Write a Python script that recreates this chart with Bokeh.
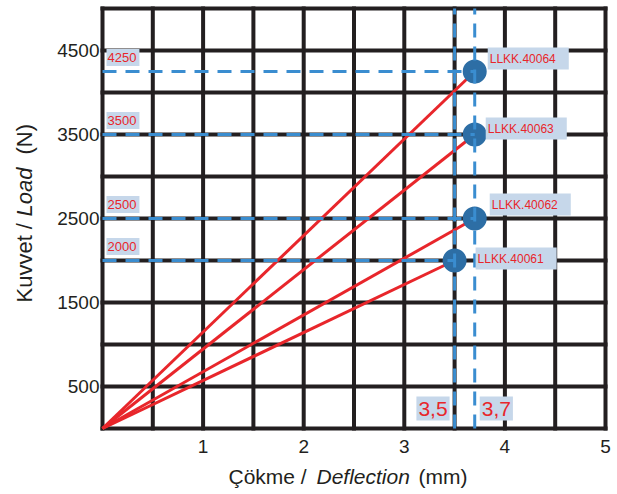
import math
import numpy as np
from bokeh.plotting import figure
from bokeh.models import Range1d, FixedTicker, Label
from bokeh.embed import file_html
from bokeh.resources import INLINE

# ---------------- data ----------------
products = ["LLKK.40061", "LLKK.40062", "LLKK.40063", "LLKK.40064"]
deflection = [3.5, 3.7, 3.7, 3.7]          # mm
load = [2000, 2500, 3500, 4250]            # N
load_labels = ["2000", "2500", "3500", "4250"]
deflection_marks = [3.5, 3.7]
deflection_labels = ["3,5", "3,7"]
x_ticks = [1, 2, 3, 4, 5]
y_ticks = [500, 1500, 2500, 3500, 4500]
X_MAX, Y_MAX = 5, 5000
X_GRID_STEP, Y_GRID_STEP = 0.5, 500

# ---------------- styles / layout ----------------
INK = "#231f20"
RED = "#e8262b"
BLUE_DASH = "#3a8dd0"
BLUE_DOT = "#2d6ea5"
BOX = "#c6d7ea"
FONT = "Liberation Sans"

W, H = 615, 492
PLOT_L, PLOT_R, PLOT_T, PLOT_B = 102, 605, 8, 428   # pixel edges of the chart box

# product label offsets (px) relative to their point
prod_dx = [21, 15, 11, 13]
prod_dy = [2, 14, 6, 13]

# ranges chosen so that the data box sits at the pixel edges above, leaving room for titles
xs = (PLOT_R - PLOT_L) / X_MAX
ys = (PLOT_B - PLOT_T) / Y_MAX
x_range = Range1d(-PLOT_L / xs, X_MAX + (W - PLOT_R) / xs)
y_range = Range1d(-(H - PLOT_B) / ys, Y_MAX + PLOT_T / ys)

p = figure(width=W, height=H, x_range=x_range, y_range=y_range,
           output_backend="svg", toolbar_location=None,
           min_border=0, min_border_left=0, min_border_right=0,
           min_border_top=0, min_border_bottom=0)
p.background_fill_color = "white"
p.border_fill_color = "white"
p.outline_line_color = None
p.grid.visible = False

# axes fixed at the data box edges (they take no side-panel space)
p.xaxis.ticker = FixedTicker(ticks=x_ticks)
p.yaxis.ticker = FixedTicker(ticks=y_ticks)
p.xaxis.fixed_location = 0
p.yaxis.fixed_location = 0
for ax in (p.xaxis, p.yaxis):
    ax.axis_line_color = None
    ax.major_tick_line_color = None
    ax.minor_tick_line_color = None
    ax.major_tick_out = 0
    ax.major_tick_in = 0
    ax.major_label_text_font = FONT
    ax.major_label_text_font_size = "19px"
    ax.major_label_text_color = INK
p.xaxis.major_label_standoff = 11
p.yaxis.major_label_standoff = 3

# grid + frame (black, heavy)
gx = np.arange(0, X_MAX + X_GRID_STEP / 2, X_GRID_STEP)
gy = np.arange(0, Y_MAX + Y_GRID_STEP / 2, Y_GRID_STEP)
p.segment(x0=gx, y0=np.zeros_like(gx), x1=gx, y1=np.full_like(gx, Y_MAX),
          line_color=INK, line_width=4, line_cap="square")
p.segment(x0=np.zeros_like(gy), y0=gy, x1=np.full_like(gy, X_MAX), y1=gy,
          line_color=INK, line_width=4, line_cap="square")

# red load lines from origin
p.segment(x0=[0] * len(load), y0=[0] * len(load), x1=deflection, y1=load,
          line_color=RED, line_width=3)

# markers
p.scatter(x=deflection, y=load, size=24, marker="circle",
          fill_color=BLUE_DOT, line_color=None)

# dashed guide lines
p.segment(x0=[0] * len(load), y0=load, x1=deflection, y1=load,
          line_color=BLUE_DASH, line_width=3, line_dash="14 9")
p.segment(x0=deflection_marks, y0=[0] * len(deflection_marks),
          x1=deflection_marks, y1=[Y_MAX] * len(deflection_marks),
          line_color=BLUE_DASH, line_width=3, line_dash="14 9")

# product labels
for xv, yv, name, dx, dy in zip(deflection, load, products, prod_dx, prod_dy):
    p.add_layout(Label(x=xv, y=yv, x_offset=dx, y_offset=dy, text=name,
                       text_font=FONT, text_font_size="12px", text_color=RED,
                       text_baseline="middle", text_align="left",
                       background_fill_color=BOX, background_fill_alpha=1,
                       padding=dict(left=2, right=13, top=4, bottom=4)))

# load value labels at the left
for yv, txt in zip(load, load_labels):
    p.add_layout(Label(x=0, y=yv, x_offset=4, y_offset=14, text=txt,
                       text_font=FONT, text_font_size="13px", text_color=RED,
                       text_baseline="middle", text_align="left",
                       background_fill_color=BOX, background_fill_alpha=1,
                       padding=dict(left=1, right=3, top=4, bottom=4)))

# deflection labels at the bottom
for xv, txt, dx, al in zip(deflection_marks, deflection_labels, [-5, 5], ["right", "left"]):
    p.add_layout(Label(x=xv, y=0, x_offset=dx, y_offset=20, text=txt,
                       text_font=FONT, text_font_size="21px", text_color=RED,
                       text_baseline="middle", text_align=al,
                       background_fill_color=BOX, background_fill_alpha=1,
                       padding=dict(left=2, right=2, top=5, bottom=5)))

# axis titles (mixed upright / italic)
x_title = [("Çökme /", "normal", 126), ("Deflection", "italic", 214), ("(mm)", "normal", 316)]
for txt, style, xo in x_title:
    p.add_layout(Label(x=0, y=0, x_offset=xo, y_offset=-48, text=txt,
                       text_font=FONT, text_font_size="21px", text_font_style=style,
                       text_color=INK, text_baseline="alphabetic", text_align="left"))

y_title = [("Kuvvet /", "normal", 126), ("Load", "italic", 212), ("(N)", "normal", 274)]
for txt, style, yo in y_title:
    p.add_layout(Label(x=0, y=0, x_offset=-78, y_offset=yo, text=txt,
                       angle=math.pi / 2,
                       text_font=FONT, text_font_size="22px", text_font_style=style,
                       text_color=INK, text_baseline="alphabetic", text_align="left"))

open("out.html", "w").write(file_html(p, INLINE))
